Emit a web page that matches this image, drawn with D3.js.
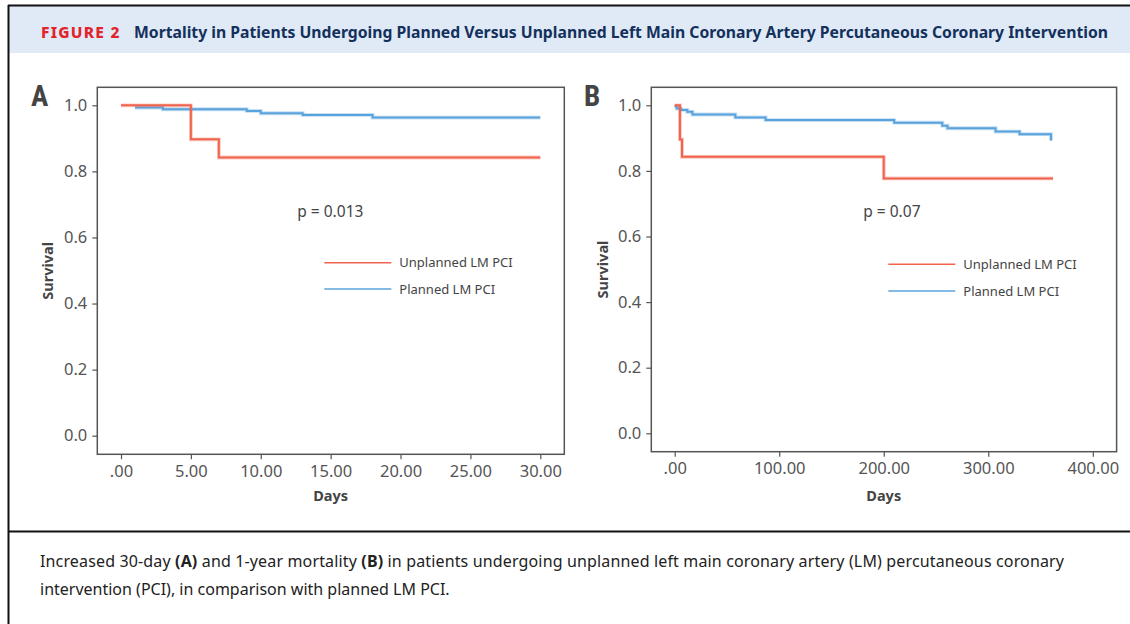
<!DOCTYPE html>
<html>
<head>
<meta charset="utf-8">
<script src="https://cdn.jsdelivr.net/npm/d3@7"></script>
<style>
  html, body { margin: 0; padding: 0; background: #fff; }
  svg { display: block; font-family: "Noto Sans", "Open Sans", sans-serif; }
</style>
</head>
<body>
<svg id="chart" width="1130" height="624"></svg>
<script>
// ---- data ----
const yTicks = [0, 0.2, 0.4, 0.6, 0.8, 1.0];
const xTicksA = [0, 5, 10, 15, 20, 25, 30];
const xTicksB = [0, 100, 200, 300, 400];

// panel A: 30-day
const daysA_unplanned = [0, 5, 7, 30];
const survA_unplanned = [1.0, 0.897, 0.842, 0.842];
const daysA_planned = [1, 3, 9, 10, 13, 18, 30];
const survA_planned = [0.993, 0.988, 0.983, 0.976, 0.971, 0.963, 0.963];

// panel B: 1-year
const daysB_unplanned = [0, 5, 7, 200, 362];
const survB_unplanned = [1.0, 0.896, 0.843, 0.777, 0.777];
const daysB_planned = [0, 2, 6, 12, 17, 58, 87, 210, 256, 261, 307, 330, 360];
const survB_planned = [0.996, 0.990, 0.986, 0.980, 0.972, 0.963, 0.955, 0.947, 0.938, 0.930, 0.920, 0.912, 0.893];

const seriesNames = ["Unplanned LM PCI", "Planned LM PCI"];
const pValues = ["p = 0.013", "p = 0.07"];

const red = "#f0644e";
const blue = "#5aa2dc";
const axisGray = "#555";

const svg = d3.select("#chart");

// ---- outer frame + header ----
svg.append("rect").attr("x", 9).attr("y", 6).attr("width", 1121).attr("height", 47).attr("fill", "#dfeaf6");
svg.append("line").attr("x1", 8).attr("x2", 1130).attr("y1", 5.5).attr("y2", 5.5).attr("stroke", "#111").attr("stroke-width", 2);
svg.append("line").attr("x1", 8.5).attr("x2", 8.5).attr("y1", 5).attr("y2", 624).attr("stroke", "#111").attr("stroke-width", 2);
svg.append("line").attr("x1", 8).attr("x2", 1130).attr("y1", 531.5).attr("y2", 531.5).attr("stroke", "#111").attr("stroke-width", 2);

svg.append("text")
  .attr("x", 41).attr("y", 37.5)
  .attr("font-size", 15.5).attr("font-weight", 800)
  .attr("letter-spacing", 1.6)
  .attr("fill", "#e2242c")
  .attr("textLength", 80)
  .text("FIGURE 2");
svg.append("text")
  .attr("x", 134).attr("y", 37.5)
  .attr("font-size", 16).attr("font-weight", 700)
  .attr("fill", "#14305c")
  .attr("textLength", 974).attr("lengthAdjust", "spacingAndGlyphs")
  .text("Mortality in Patients Undergoing Planned Versus Unplanned Left Main Coronary Artery Percutaneous Coronary Intervention");

// ---- caption ----
const cap = svg.append("g").attr("font-size", 16).attr("fill", "#222");
const cap1 = cap.append("text").attr("x", 40).attr("y", 567)
  .attr("textLength", 1024);
cap1.append("tspan").text("Increased 30-day ");
cap1.append("tspan").attr("font-weight", 700).text("(A)");
cap1.append("tspan").text(" and 1-year mortality ");
cap1.append("tspan").attr("font-weight", 700).text("(B)");
cap1.append("tspan").text(" in patients undergoing unplanned left main coronary artery (LM) percutaneous coronary");
cap.append("text").attr("x", 40).attr("y", 595).text("intervention (PCI), in comparison with planned LM PCI.");

// ---- panels ----
function fmtDays(d) {
  return d === 0 ? ".00" : d3.format(".2f")(d);
}

function drawPanel(cfg) {
  const x = d3.scaleLinear().domain(cfg.xDomain).range(cfg.xRange);
  const y = d3.scaleLinear().domain([0, 1]).range(cfg.yRange);
  const g = svg.append("g");

  // frame
  g.append("rect")
    .attr("x", cfg.frame[0]).attr("y", cfg.frame[1])
    .attr("width", cfg.frame[2] - cfg.frame[0]).attr("height", cfg.frame[3] - cfg.frame[1])
    .attr("fill", "none").attr("stroke", axisGray).attr("stroke-width", 1.5);

  const yAxis = g.append("g")
    .attr("transform", "translate(" + cfg.frame[0] + ",0)")
    .call(d3.axisLeft(y).tickValues(yTicks).tickFormat(d3.format(".1f")).tickSize(5).tickPadding(5));
  const xAxis = g.append("g")
    .attr("transform", "translate(0," + cfg.frame[3] + ")")
    .call(d3.axisBottom(x).tickValues(cfg.xTicks).tickFormat(fmtDays).tickSize(5).tickPadding(6));
  [yAxis, xAxis].forEach((a) => {
    a.select(".domain").remove();
    a.selectAll("line").attr("stroke", axisGray).attr("stroke-width", 1.2);
    a.selectAll("text").attr("fill", "#555").attr("font-size", 16.5).attr("font-family", "Noto Sans");
  });

  // panel letter
  g.append("text")
    .attr("x", cfg.letterX).attr("y", 106)
    .attr("font-size", 29).attr("font-weight", 700)
    .attr("fill", "#444")
    .attr("font-family", "Liberation Sans Narrow, Roboto Condensed, Roboto, sans-serif")
    .text(cfg.letter);

  // axis titles
  g.append("text")
    .attr("x", (cfg.xRange[0] + cfg.xRange[1]) / 2).attr("y", 501)
    .attr("text-anchor", "middle")
    .attr("font-size", 14.5).attr("font-weight", 700).attr("fill", "#444")
    .text("Days");
  g.append("text")
    .attr("transform", "translate(" + (cfg.survX + 5) + "," + ((cfg.frame[1] + cfg.frame[3]) / 2) + ") rotate(-90)")
    .attr("text-anchor", "middle")
    .attr("font-size", 14.5).attr("font-weight", 700).attr("fill", "#444")
    .text("Survival");

  // curves
  const line = d3.line()
    .x((d) => x(d[0]))
    .y((d) => y(d[1]))
    .curve(d3.curveStepAfter);

  const curves = [
    { days: cfg.plannedDays, surv: cfg.plannedSurv, color: blue },
    { days: cfg.unplannedDays, surv: cfg.unplannedSurv, color: red },
  ];
  curves.forEach((c) => {
    const pts = c.days.map((d, i) => [d, c.surv[i]]);
    g.append("path").datum(pts).attr("d", line)
      .attr("fill", "none").attr("stroke", c.color)
      .attr("stroke-opacity", 0.35).attr("stroke-width", 3.8);
    g.append("path").datum(pts).attr("d", line)
      .attr("fill", "none").attr("stroke", c.color)
      .attr("stroke-width", 2);
  });

  // p value
  g.append("text")
    .attr("x", cfg.pX).attr("y", 216.5)
    .attr("font-size", 15.5).attr("fill", "#444")
    .text(cfg.pText);

  // legend
  const legColors = [red, blue];
  seriesNames.forEach((name, i) => {
    const ly = cfg.legY + i * cfg.legStep;
    g.append("line")
      .attr("x1", cfg.legX).attr("x2", cfg.legX + 67)
      .attr("y1", ly).attr("y2", ly)
      .attr("stroke", legColors[i]).attr("stroke-width", 1.6);
    g.append("text")
      .attr("x", cfg.legX + 75).attr("y", ly + 4.5)
      .attr("font-size", 13).attr("fill", "#444")
      .text(name);
  });
}

drawPanel({
  letter: "A", letterX: 31, survX: 48,
  frame: [97.3, 87.3, 564.3, 454.3],
  xDomain: [0, 30], xRange: [121, 540.3], yRange: [435.7, 105.3],
  xTicks: xTicksA,
  plannedDays: daysA_planned, plannedSurv: survA_planned,
  unplannedDays: daysA_unplanned, unplannedSurv: survA_unplanned,
  pText: pValues[0], pX: 297.3,
  legX: 324.3, legY: 262.7, legStep: 26.3,
});

drawPanel({
  letter: "B", letterX: 584, survX: 603.3,
  frame: [651.3, 87.3, 1116.6, 451.7],
  xDomain: [0, 400], xRange: [674.7, 1092.8], yRange: [433.3, 105.3],
  xTicks: xTicksB,
  plannedDays: daysB_planned, plannedSurv: survB_planned,
  unplannedDays: daysB_unplanned, unplannedSurv: survB_unplanned,
  pText: pValues[1], pX: 863.3,
  legX: 888.3, legY: 264.3, legStep: 26.7,
});
</script>
</body>
</html>
